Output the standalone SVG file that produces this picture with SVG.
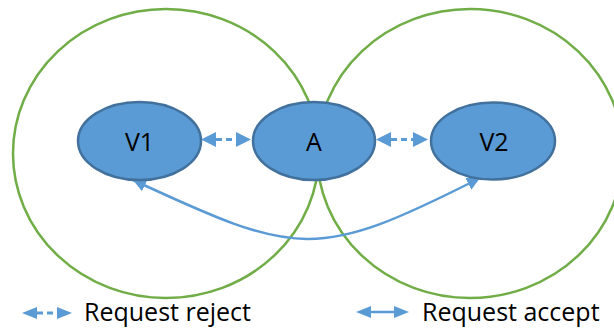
<svg xmlns="http://www.w3.org/2000/svg" width="614" height="328" viewBox="0 0 614 328">
  <style>
    .zone { fill: none; stroke: #70AD47; stroke-width: 2.5; }
    .node ellipse { fill: #5B9BD5; stroke: #41719C; stroke-width: 2.5; }
    .label { font-family: "Open Sans", "Liberation Sans", sans-serif; fill: #000; }
    .node .label { font-size: 25px; text-anchor: middle; }
    .legend .label { font-size: 25px; }
    .reject { stroke: #5B9BD5; stroke-width: 3; stroke-dasharray: 6 4; fill: none; }
    .accept { stroke: #5B9BD5; stroke-width: 2.5; fill: none; }
  </style>
  <defs>
    <!-- arrowheads anchored at their base -->
    <marker id="headL" markerUnits="userSpaceOnUse" markerWidth="16" markerHeight="16" refX="0" refY="7.5" orient="auto-start-reverse">
      <path d="M0,0 L15,7.5 L0,15 Z" fill="#5B9BD5"/>
    </marker>
    <marker id="headS" markerUnits="userSpaceOnUse" markerWidth="16" markerHeight="13" refX="0" refY="6" orient="auto-start-reverse">
      <path d="M0,0 L15,6 L0,12 Z" fill="#5B9BD5"/>
    </marker>
    <!-- arrowhead anchored at its tip -->
    <marker id="headTip" markerUnits="userSpaceOnUse" markerWidth="14" markerHeight="14" refX="13" refY="6.5" orient="auto-start-reverse">
      <path d="M0,0 L13,6.5 L0,13 Z" fill="#5B9BD5"/>
    </marker>
  </defs>

  <!-- coverage areas -->
  <g id="zones">
    <ellipse class="zone" cx="166" cy="153.5" rx="153" ry="144.5"/>
    <ellipse class="zone" cx="470" cy="153.5" rx="153" ry="144.5"/>
  </g>

  <g id="connectors">
    <line class="reject" x1="216" y1="139.5" x2="236" y2="139.5" marker-start="url(#headL)" marker-end="url(#headL)"/>
    <line class="reject" x1="391" y1="139.5" x2="413" y2="139.5" marker-start="url(#headL)" marker-end="url(#headL)"/>
    <path class="accept" d="M133,180 C299,257 316,261 480,178" marker-start="url(#headTip)" marker-end="url(#headTip)"/>
  </g>

  <g id="node-V1" class="node">
    <ellipse cx="139.5" cy="141" rx="61.5" ry="39"/>
    <text class="label" x="139.5" y="151">V1</text>
  </g>
  <g id="node-A" class="node">
    <ellipse cx="314" cy="141" rx="61" ry="39"/>
    <text class="label" x="314" y="151">A</text>
  </g>
  <g id="node-V2" class="node">
    <ellipse cx="493" cy="141" rx="62" ry="38.5"/>
    <text class="label" x="494" y="151">V2</text>
  </g>

  <g id="legend" class="legend">
    <line class="reject" x1="37" y1="313" x2="57" y2="313" stroke-dasharray="5 4" stroke-width="2.5" marker-start="url(#headS)" marker-end="url(#headS)"/>
    <text class="label" x="84" y="321">Request reject</text>
    <line class="accept" x1="371" y1="312" x2="394" y2="312" stroke-width="2" marker-start="url(#headS)" marker-end="url(#headS)"/>
    <text class="label" x="422" y="321">Request accept</text>
  </g>
</svg>
